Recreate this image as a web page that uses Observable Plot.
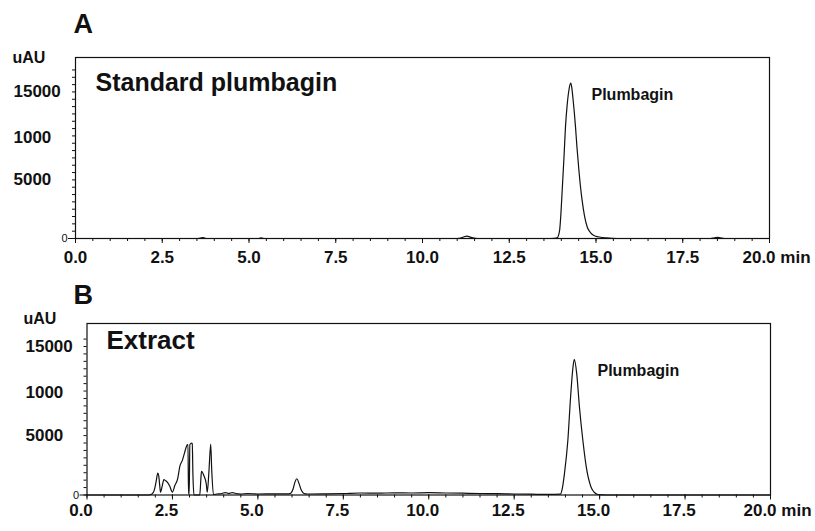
<!DOCTYPE html>
<html>
<head>
<meta charset="utf-8">
<script src="https://cdn.jsdelivr.net/npm/d3@7"></script>
<script src="https://cdn.jsdelivr.net/npm/@observablehq/plot@0.6"></script>
<style>
  body { margin: 0; background: #fff; }
  #chart { position: relative; width: 815px; height: 531px; }
  #chart svg { position: absolute; left: 0; }
</style>
</head>
<body>
<div id="chart"></div>
<script>
// ---- data ----
const xMajorTicks = [0, 2.5, 5, 7.5, 10, 12.5, 15, 17.5, 20];
const xTickLabels = ["0.0", "2.5", "5.0", "7.5", "10.0", "12.5", "15.0", "17.5", "20.0 min"];
const xMinorTicks = d3.range(0, 20.01, 0.5);
const yLabelValues = [15000, 10350, 6050];
const yTickLabels = ["15000", "1000", "5000"];

// Panel A: standard plumbagin (time in min, signal in uAU)
const timeA = [0, 3.5, 3.6, 3.68, 3.76, 5.25, 5.35, 5.45, 11.0, 11.12,
  11.2, 11.28, 11.36, 11.45, 11.6, 13.6, 13.8, 13.88, 13.95, 13.99,
  14.03, 14.08, 14.12, 14.17, 14.22, 14.27, 14.3, 14.34, 14.41, 14.45,
  14.5, 14.55, 14.6, 14.67, 14.75, 14.84, 14.94, 15.1, 15.3, 15.6,
  18.3, 18.42, 18.5, 18.58, 18.7, 20];
const signalA = [0, 0, 50, 80, 0, 0, 60, 0, 0, 60,
  180, 240, 170, 60, 0, 0, 20, 60, 800, 2600,
  5200, 8500, 11400, 13700, 15200, 15900, 15500, 14200, 11400, 9400,
  7300, 5400, 3900, 2300, 1150, 600, 300, 150, 60, 0,
  0, 80, 120, 70, 0, 0];

// Panel B: extract
const timeB = [0, 1.8, 1.9, 1.97, 2.02, 2.07, 2.1, 2.13, 2.15, 2.2,
  2.25, 2.3, 2.35, 2.42, 2.5, 2.57, 2.65, 2.72, 2.79, 2.85,
  2.89, 2.94, 2.955, 2.97, 2.99, 3.01, 3.06, 3.08, 3.1, 3.13,
  3.3, 3.33, 3.35, 3.42, 3.49, 3.52, 3.57, 3.62, 3.65, 3.7,
  3.8, 3.95, 4.05, 4.15, 4.25, 4.35, 4.5, 4.7, 5.0, 5.5,
  5.9, 5.97, 6.03, 6.09, 6.14, 6.2, 6.27, 6.35, 6.45, 7.0,
  7.5, 8.0, 8.5, 9.0, 9.5, 10.0, 10.5, 11.0, 11.5, 12.0,
  12.5, 13.0, 13.5, 13.85, 13.91, 13.97, 14.07, 14.15, 14.22, 14.26,
  14.33, 14.41, 14.51, 14.61, 14.75, 14.85, 14.95, 15.2, 20];
const signalB = [0, 0, 100, 500, 1300, 2200, 1900, 900, 280, 900,
  1550, 1450, 1300, 900, 300, 950, 1600, 2950, 3500, 4200,
  4700, 5100, 5100, 100, 100, 5100, 5230, 5200, 2000, 0,
  0, 1500, 2400, 1950, 1130, 280, 2500, 5150, 2500, 50,
  100, 150, 250, 150, 250, 150, 100, 150, 100, 120,
  120, 200, 600, 1350, 1640, 1200, 500, 150, 100, 120,
  150, 200, 180, 220, 200, 230, 200, 180, 150, 130,
  100, 80, 60, 80, 700, 2140, 5500, 9880, 12900, 13690,
  12240, 8870, 5500, 2810, 790, 250, 50, 0, 0];

const FONT = '"Liberation Sans", Arial, Helvetica, sans-serif';
const INK = "#111";

function panel(cfg) {
  const data = cfg.t.map((t, i) => ({t, v: cfg.v[i]}));
  const yMinor = d3.range(0, cfg.yMax - 900, 750);
  return Plot.plot({
    width: 815,
    height: cfg.h,
    marginLeft: cfg.mL, marginRight: cfg.mR, marginTop: cfg.mT, marginBottom: cfg.mB,
    x: {domain: [0, 20], label: null},
    y: {domain: [0, cfg.yMax], label: null},
    style: {fontFamily: FONT, color: INK, background: "transparent", overflow: "visible"},
    marks: [
      Plot.frame({stroke: INK, strokeWidth: 1.2}),
      Plot.axisX({ticks: xMinorTicks, tickSize: 3, tickFormat: () => "", label: null, stroke: INK}),
      Plot.axisX({ticks: xMajorTicks, tickSize: 5, tickFormat: () => "", label: null, stroke: INK}),
      Plot.axisX({ticks: xMajorTicks.slice(0, -1), tickSize: 0, tickPadding: cfg.xPad,
        tickFormat: d => xTickLabels[xMajorTicks.indexOf(d)], label: null,
        fontSize: 17, fontWeight: "bold", dx: cfg.xdx, fill: INK}),
      Plot.text([xTickLabels[xTickLabels.length - 1]], {x: () => xMajorTicks[xMajorTicks.length - 1],
        text: d => d, frameAnchor: "bottom", lineAnchor: "top", dy: cfg.xPad, dx: 7,
        fontSize: 17, fontWeight: "bold", fill: INK}),
      Plot.axisY({ticks: yMinor, tickSize: 3, tickFormat: () => "", label: null, stroke: INK}),
      Plot.axisY({ticks: [0], tickSize: 7, tickPadding: 1, tickFormat: () => "0", label: null,
        fontSize: 11, fill: INK, stroke: INK}),
      Plot.text(yLabelValues, {y: d => d, text: (d, i) => yTickLabels[i], frameAnchor: "left",
        textAnchor: "start", dx: cfg.ylx - cfg.mL, fontSize: 17, fontWeight: "bold", fill: INK}),
      Plot.line(data, {x: "t", y: "v", curve: "monotone-x", stroke: INK, strokeWidth: 1.2}),
      Plot.text(["uAU"], {text: d => d, frameAnchor: "top-left", textAnchor: "start", lineAnchor: "bottom",
        dx: cfg.uAU[0] - cfg.mL, dy: cfg.uAU[1], fontSize: 16, fontWeight: "bold", fill: INK}),
      Plot.text([cfg.letter], {text: d => d, frameAnchor: "top-left", textAnchor: "start", lineAnchor: "bottom",
        dx: cfg.letterPos[0] - cfg.mL, dy: cfg.letterPos[1], fontSize: 27, fontWeight: "bold", fill: INK}),
      Plot.text([cfg.title], {text: d => d, frameAnchor: "top-left", textAnchor: "start", lineAnchor: "bottom",
        dx: cfg.titlePos[0] - cfg.mL, dy: cfg.titlePos[1], fontSize: cfg.titleSize, fontWeight: "bold", fill: INK}),
      Plot.text(["Plumbagin"], {text: d => d, frameAnchor: "top-left", textAnchor: "start", lineAnchor: "bottom",
        dx: cfg.peakPos[0] - cfg.mL, dy: cfg.peakPos[1], fontSize: 16, fontWeight: "bold", fill: INK})
    ]
  });
}

const svgA = panel({
  t: timeA, v: signalA, yMax: 18526, h: 270,
  mL: 75, mR: 46, mT: 57, mB: 32,
  xPad: 12, xdx: 0, ylx: 13,
  uAU: [12, 5], letter: "A", letterPos: [73, -25],
  title: "Standard plumbagin", titlePos: [95, 33], titleSize: 25,
  peakPos: [591, 42]
});
const svgB = panel({
  t: timeB, v: signalB, yMax: 17323, h: 261,
  mL: 86.5, mR: 45, mT: 53, mB: 36.5,
  xPad: 9, xdx: -6, ylx: 25,
  uAU: [23, 0], letter: "B", letterPos: [73, -20],
  title: "Extract", titlePos: [106, 25], titleSize: 26,
  peakPos: [597, 52]
});
svgA.style.top = "0px";
svgB.style.top = "270px";
const chart = document.getElementById("chart");
chart.append(svgA, svgB);
</script>
</body>
</html>
